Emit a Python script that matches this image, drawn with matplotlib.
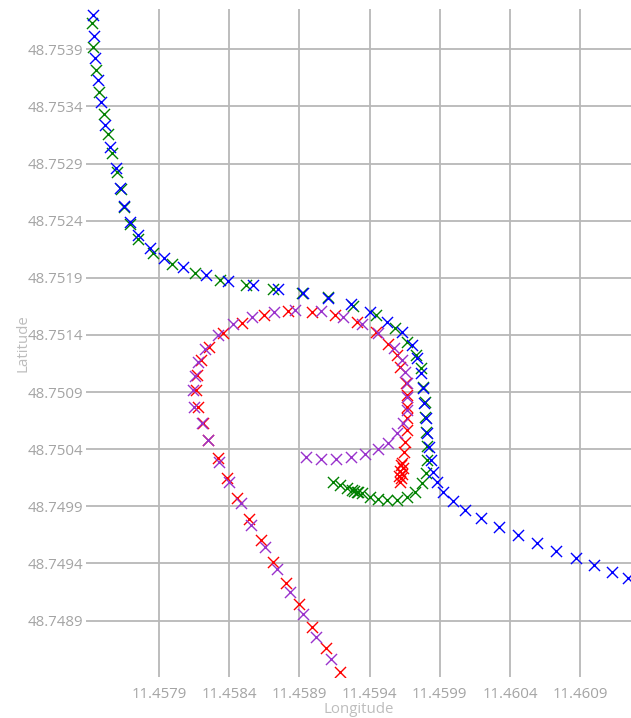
import matplotlib
matplotlib.use("Agg")
import matplotlib.pyplot as plt

# blue track
blue_lon = [11.457428, 11.457437, 11.457444, 11.457463, 11.457485, 11.457515, 11.457551, 11.457591,
            11.457622, 11.457653, 11.457693, 11.457748, 11.457836, 11.457938, 11.458073, 11.458233,
            11.458394, 11.458572, 11.458750, 11.458928, 11.459106, 11.459266, 11.459404, 11.459527,
            11.459630, 11.459701, 11.459736, 11.459765, 11.459778, 11.459788, 11.459801, 11.459807,
            11.459821, 11.459835, 11.459850, 11.459878, 11.459922, 11.459993, 11.460079, 11.460194,
            11.460323, 11.460460, 11.460595, 11.460730, 11.460868, 11.460997, 11.461126, 11.461241]
blue_lat = [48.754198, 48.754014, 48.753821, 48.753629, 48.753436, 48.753235, 48.753043, 48.752859,
            48.752684, 48.752526, 48.752387, 48.752273, 48.752159, 48.752072, 48.751993, 48.751923,
            48.751870, 48.751835, 48.751800, 48.751765, 48.751719, 48.751675, 48.751602, 48.751514,
            48.751422, 48.751310, 48.751194, 48.751063, 48.750934, 48.750800, 48.750669, 48.750538,
            48.750421, 48.750304, 48.750202, 48.750114, 48.750027, 48.749948, 48.749867, 48.749794,
            48.749721, 48.749648, 48.749575, 48.749511, 48.749444, 48.749386, 48.749322, 48.749269]

# green track
green_lon = [11.457420, 11.457432, 11.457451, 11.457475, 11.457508, 11.457534, 11.457567, 11.457599,
             11.457627, 11.457653, 11.457693, 11.457752, 11.457859, 11.457995, 11.458157, 11.458335,
             11.458520, 11.458715, 11.458917, 11.459104, 11.459285, 11.459446, 11.459582, 11.459669,
             11.459731, 11.459765, 11.459779, 11.459792, 11.459796, 11.459803, 11.459812, 11.459810,
             11.459803, 11.459772, 11.459724, 11.459665, 11.459594, 11.459527, 11.459463, 11.459404,
             11.459344, 11.459309, 11.459290, 11.459275, 11.459318, 11.459238, 11.459190, 11.459142]
green_lat = [48.754128, 48.753920, 48.753716, 48.753527, 48.753338, 48.753163, 48.752993, 48.752827,
             48.752675, 48.752520, 48.752375, 48.752244, 48.752121, 48.752025, 48.751946, 48.751885,
             48.751841, 48.751798, 48.751768, 48.751730, 48.751652, 48.751573, 48.751457, 48.751339,
             48.751223, 48.751107, 48.750940, 48.750812, 48.750683, 48.750552, 48.750429, 48.750304,
             48.750188, 48.750100, 48.750027, 48.749983, 48.749954, 48.749954, 48.749960, 48.749983,
             48.750013, 48.750027, 48.750037, 48.750046, 48.750024, 48.750057, 48.750086, 48.750114]

# red track
red_lon = [11.459617, 11.459625, 11.459632, 11.459617, 11.459639, 11.459625, 11.459632, 11.459610,
           11.459646, 11.459653, 11.459665, 11.459669, 11.459665, 11.459669, 11.459660, 11.459617,
           11.459594, 11.459534, 11.459446, 11.459313, 11.459154, 11.458988, 11.458821, 11.458648,
           11.458489, 11.458358, 11.458258, 11.458197, 11.458169, 11.458164, 11.458180, 11.458216,
           11.458251, 11.458317, 11.458387, 11.458459, 11.458539, 11.458625, 11.458711, 11.458803,
           11.458898, 11.458990, 11.459090, 11.459190]
red_lat = [48.750112, 48.750147, 48.750182, 48.750208, 48.750234, 48.750261, 48.750278, 48.750164,
           48.750374, 48.750462, 48.750567, 48.750669, 48.750771, 48.750873, 48.750975, 48.751121,
           48.751223, 48.751325, 48.751427, 48.751514, 48.751573, 48.751602, 48.751610, 48.751573,
           48.751506, 48.751413, 48.751296, 48.751179, 48.751048, 48.750917, 48.750771, 48.750631,
           48.750479, 48.750326, 48.750144, 48.749969, 48.749788, 48.749604, 48.749414, 48.749231,
           48.749044, 48.748841, 48.748657, 48.748452]

# purple track
purple_lon = [11.458946, 11.459055, 11.459161, 11.459268, 11.459371, 11.459463, 11.459534, 11.459594,
              11.459637, 11.459667, 11.459669, 11.459665, 11.459653, 11.459630, 11.459575, 11.459463,
              11.459344, 11.459213, 11.459052, 11.458869, 11.458720, 11.458561, 11.458430, 11.458323,
              11.458228, 11.458180, 11.458157, 11.458140, 11.458149, 11.458204, 11.458251, 11.458330,
              11.458402, 11.458482, 11.458559, 11.458654, 11.458740, 11.458831, 11.458923, 11.459021,
              11.459124]
purple_lat = [48.750328, 48.750310, 48.750310, 48.750328, 48.750357, 48.750398, 48.750450, 48.750538,
              48.750625, 48.750742, 48.750858, 48.750975, 48.751077, 48.751179, 48.751289, 48.751413,
              48.751500, 48.751558, 48.751610, 48.751617, 48.751602, 48.751558, 48.751494, 48.751398,
              48.751281, 48.751164, 48.751039, 48.750917, 48.750771, 48.750625, 48.750479, 48.750289,
              48.750114, 48.749931, 48.749736, 48.749546, 48.749348, 48.749152, 48.748957, 48.748753,
              48.748561]

lon_ticks = [11.4579, 11.4584, 11.4589, 11.4594, 11.4599, 11.4604, 11.4609]
lat_ticks = [48.7489, 48.7494, 48.7499, 48.7504, 48.7509, 48.7514, 48.7519,
             48.7524, 48.7529, 48.7534, 48.7539]

plt.rcParams['font.family'] = ['Open Sans', 'DejaVu Sans']

fig = plt.figure(figsize=(6.31, 7.18), dpi=100)
ax = fig.add_axes([0.1363, 0.0571, 0.8637, 0.9304])

ms = 64
ax.scatter(green_lon, green_lat, marker='x', s=ms, color='green', linewidths=1, zorder=3)
ax.scatter(blue_lon, blue_lat, marker='x', s=ms, color='blue', linewidths=1, zorder=3)
ax.scatter(red_lon, red_lat, marker='x', s=ms, color='red', linewidths=1, zorder=3)
ax.scatter(purple_lon, purple_lat, marker='x', s=ms, color='#9932CC', linewidths=1, zorder=3)

ax.set_xlim(11.45738, 11.461263)
ax.set_ylim(48.748406, 48.754253)
ax.set_xticks(lon_ticks)
ax.set_yticks(lat_ticks)
ax.set_xticklabels([f"{v:.4f}" for v in lon_ticks])
ax.set_yticklabels([f"{v:.4f}" for v in lat_ticks])

ax.grid(True, color='#b8b8b8', linewidth=1.3)
ax.set_axisbelow(True)
for s in ax.spines.values():
    s.set_visible(False)
ax.tick_params(axis='both', length=0, labelsize=10.8, colors='#a4a4a4')
ax.tick_params(axis='x', pad=7)
ax.tick_params(axis='y', pad=2)

ax.set_xlabel('Longitude', fontsize=10.8, color='#bdbdbd', labelpad=0)
ax.set_ylabel('Latitude', fontsize=10.8, color='#bdbdbd', labelpad=-2)

fig.savefig('out.png', dpi=100)
